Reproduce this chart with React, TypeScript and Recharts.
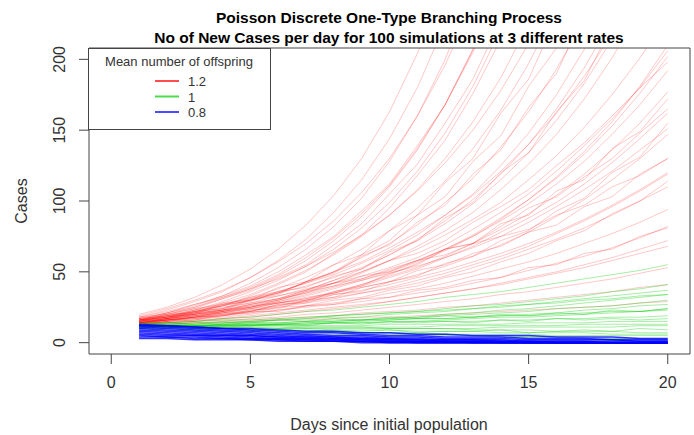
import { LineChart, Line, XAxis, YAxis, ReferenceArea } from 'recharts'

const days = [1, 2, 3, 4, 5, 6, 7, 8, 9, 10, 11, 12, 13, 14, 15, 16, 17, 18, 19, 20]
const xTicks = [0, 5, 10, 15, 20]
const yTicks = [0, 50, 100, 150, 200]

// new cases per day, mean offspring 1.2
const redRuns = [
  [17, 21, 27, 33, 40, 50, 62, 75, 93, 112, 139, 168, 205, 250, 300, 365, 440, 530, 640, 770],
  [15, 20, 24, 31, 37, 46, 55, 69, 84, 105, 126, 155, 186, 228, 275, 330, 400, 480, 580, 700],
  [14, 17, 22, 26, 33, 41, 50, 63, 76, 95, 118, 143, 176, 214, 262, 318, 388, 470, 570, 690],
  [16, 20, 21, 28, 30, 39, 43, 55, 62, 79, 90, 113, 130, 162, 186, 230, 268, 330, 385, 465],
  [13, 16, 20, 24, 30, 35, 43, 50, 60, 70, 83, 99, 116, 138, 163, 193, 228, 270, 320, 378],
  [18, 20, 24, 27, 32, 36, 42, 48, 56, 65, 76, 90, 105, 125, 148, 175, 207, 245, 290, 342],
  [15, 19, 20, 27, 29, 36, 39, 47, 52, 64, 72, 88, 99, 120, 134, 163, 185, 224, 252, 300],
  [14, 16, 18, 22, 25, 30, 35, 42, 50, 58, 66, 76, 87, 99, 115, 132, 152, 175, 201, 231],
  [16, 18, 21, 23, 27, 31, 37, 42, 47, 53, 60, 69, 80, 92, 105, 121, 139, 158, 180, 206],
  [12, 15, 16, 20, 22, 27, 29, 36, 40, 49, 55, 66, 70, 84, 90, 107, 115, 137, 149, 172],
  [15, 17, 19, 22, 24, 28, 32, 35, 40, 46, 52, 60, 68, 78, 88, 99, 112, 127, 144, 162],
  [17, 19, 22, 24, 28, 31, 35, 40, 44, 49, 54, 60, 67, 75, 85, 96, 108, 121, 136, 151],
  [13, 15, 18, 19, 23, 24, 30, 32, 39, 43, 51, 55, 63, 68, 78, 83, 96, 103, 119, 130],
  [14, 16, 18, 20, 23, 25, 28, 31, 35, 39, 44, 49, 55, 61, 68, 77, 86, 96, 107, 119],
  [16, 17, 19, 21, 24, 26, 29, 32, 35, 38, 42, 47, 53, 59, 66, 73, 81, 90, 100, 110],
  [14, 15, 17, 18, 20, 23, 26, 28, 31, 35, 38, 42, 47, 52, 57, 63, 70, 77, 85, 94],
  [15, 16, 18, 19, 22, 22, 26, 27, 31, 32, 37, 39, 44, 46, 53, 55, 63, 66, 75, 81],
  [13, 15, 16, 17, 19, 21, 23, 25, 27, 29, 32, 35, 38, 41, 45, 49, 53, 58, 63, 68],
  [12, 13, 14, 15, 17, 18, 20, 21, 23, 25, 27, 29, 31, 34, 36, 39, 42, 45, 49, 53],
  [14, 14, 15, 16, 16, 17, 18, 19, 21, 22, 23, 25, 26, 28, 30, 32, 34, 36, 39, 41],
  [13, 13, 14, 14, 15, 16, 16, 17, 18, 18, 19, 20, 21, 22, 23, 24, 25, 26, 28, 29],
  [19, 24, 30, 37, 46, 57, 70, 86, 106, 130, 160, 196, 240, 295, 360, 440, 540, 660, 800, 980],
  [16, 21, 25, 32, 39, 48, 60, 74, 91, 111, 137, 168, 207, 254, 310, 380, 465, 570, 695, 850],
  [15, 18, 23, 28, 34, 42, 51, 62, 75, 90, 108, 130, 156, 187, 225, 270, 325, 390, 468, 560],
  [14, 17, 21, 23, 30, 34, 43, 50, 62, 72, 90, 103, 128, 146, 181, 208, 256, 296, 360, 425],
  [17, 19, 23, 26, 30, 35, 40, 46, 53, 62, 72, 84, 98, 115, 134, 157, 183, 214, 250, 292],
  [13, 15, 18, 21, 25, 29, 34, 39, 45, 51, 58, 66, 75, 86, 98, 112, 128, 147, 168, 192],
  [16, 18, 20, 23, 26, 28, 31, 35, 39, 43, 48, 54, 61, 69, 78, 89, 101, 115, 130, 147],
  [15, 16, 18, 20, 21, 25, 26, 30, 32, 37, 40, 46, 50, 57, 63, 72, 79, 91, 100, 114],
  [14, 16, 17, 19, 21, 23, 25, 27, 29, 32, 35, 38, 42, 46, 51, 56, 61, 67, 74, 82],
  [18, 22, 27, 32, 38, 45, 54, 64, 76, 90, 107, 127, 150, 178, 211, 250, 296, 350, 414, 490],
  [12, 14, 16, 19, 22, 26, 30, 35, 41, 48, 56, 65, 75, 87, 101, 117, 135, 156, 181, 210],
  [15, 18, 22, 26, 30, 33, 38, 42, 45, 52, 58, 62, 70, 75, 80, 90, 97, 110, 118, 130],
  [14, 17, 20, 22, 27, 30, 36, 40, 47, 50, 57, 66, 70, 82, 95, 103, 117, 130, 148, 165],
  [16, 18, 21, 25, 28, 33, 37, 44, 50, 58, 63, 72, 85, 96, 108, 125, 141, 160, 180, 198],
  [20, 25, 32, 41, 52, 66, 83, 104, 130, 163, 204, 255, 320, 400, 500, 625, 780, 975, 1220, 1520],
  [18, 23, 29, 36, 46, 58, 73, 92, 115, 144, 180, 225, 280, 350, 438, 547, 684, 855, 1070, 1335],
  [17, 21, 26, 33, 42, 53, 66, 82, 102, 128, 160, 200, 250, 312, 390, 487, 610, 762, 952, 1190],
  [16, 20, 25, 31, 38, 47, 58, 72, 89, 110, 136, 168, 207, 255, 315, 390, 480, 590, 730, 900],
  [15, 19, 23, 29, 36, 44, 54, 66, 81, 99, 121, 148, 181, 221, 270, 330, 403, 492, 600, 735],
  [14, 17, 21, 26, 32, 38, 46, 55, 66, 79, 95, 114, 137, 164, 197, 236, 283, 340, 408, 490],
  [16, 18, 22, 24, 31, 35, 43, 49, 61, 69, 85, 97, 119, 136, 166, 190, 232, 265, 322, 370],
  [13, 16, 18, 22, 26, 30, 36, 42, 49, 58, 68, 79, 92, 108, 126, 147, 172, 201, 235, 275],
  [15, 17, 20, 22, 25, 29, 33, 38, 44, 50, 58, 66, 76, 88, 101, 116, 133, 153, 176, 202],
  [14, 16, 17, 21, 22, 27, 28, 34, 36, 43, 47, 56, 61, 72, 79, 93, 102, 120, 131, 155],
  [17, 18, 20, 23, 25, 28, 30, 34, 37, 41, 46, 51, 57, 63, 70, 78, 87, 97, 108, 120],
  [13, 14, 15, 17, 18, 20, 22, 24, 26, 29, 32, 35, 38, 42, 46, 50, 55, 60, 66, 72],
  [16, 19, 22, 27, 31, 36, 42, 50, 57, 67, 78, 90, 104, 121, 140, 162, 188, 218, 252, 292],
  [14, 16, 19, 23, 27, 31, 37, 44, 52, 62, 73, 86, 101, 119, 140, 165, 194, 228, 268, 315],
  [15, 17, 19, 21, 24, 28, 31, 36, 41, 47, 53, 61, 70, 80, 91, 104, 119, 136, 155, 177],
]

// mean offspring 1
const greenRuns = [
  [13, 14, 15, 17, 18, 20, 22, 23, 25, 27, 29, 32, 34, 36, 39, 42, 45, 48, 51, 55],
  [12, 13, 14, 14, 15, 16, 17, 19, 20, 21, 22, 24, 26, 27, 29, 31, 33, 36, 38, 41],
  [11, 12, 12, 13, 14, 14, 15, 16, 16, 17, 18, 19, 20, 21, 22, 24, 25, 26, 28, 30],
  [13, 14, 13, 15, 14, 16, 15, 17, 16, 18, 17, 19, 18, 20, 19, 21, 20, 23, 22, 24],
  [12, 12, 12, 13, 13, 13, 13, 14, 14, 14, 15, 15, 15, 16, 16, 17, 17, 18, 18, 19],
  [11, 11, 11, 11, 12, 12, 12, 12, 12, 13, 13, 13, 13, 13, 14, 14, 14, 15, 15, 15],
  [12, 12, 11, 11, 11, 11, 10, 10, 10, 10, 10, 10, 10, 11, 11, 11, 11, 11, 12, 12],
  [10, 11, 9, 10, 9, 10, 8, 9, 8, 9, 7, 8, 8, 9, 7, 8, 9, 8, 10, 9],
  [11, 11, 10, 10, 9, 9, 8, 8, 7, 7, 7, 6, 6, 6, 6, 5, 5, 5, 5, 5],
  [12, 11, 11, 10, 9, 9, 8, 7, 7, 6, 6, 5, 5, 4, 4, 4, 3, 3, 3, 3],
  [10, 10, 9, 8, 8, 7, 6, 6, 5, 4, 4, 3, 3, 2, 2, 2, 1, 1, 1, 1],
  [13, 12, 11, 11, 10, 9, 9, 8, 7, 7, 6, 6, 5, 5, 4, 4, 4, 3, 3, 2],
  [14, 14, 15, 16, 16, 17, 18, 19, 20, 21, 22, 23, 24, 26, 27, 28, 30, 31, 33, 34],
  [12, 12, 13, 13, 14, 14, 15, 15, 16, 16, 17, 17, 18, 19, 19, 20, 21, 22, 22, 23],
  [11, 12, 11, 13, 12, 13, 12, 14, 13, 15, 14, 15, 14, 16, 15, 17, 16, 17, 16, 17],
  [10, 10, 10, 10, 10, 10, 11, 11, 11, 11, 11, 12, 12, 12, 12, 12, 13, 13, 13, 13],
  [13, 13, 12, 12, 12, 12, 11, 11, 11, 10, 10, 10, 9, 9, 9, 8, 8, 8, 7, 7],
  [12, 12, 12, 12, 13, 13, 14, 14, 15, 16, 17, 17, 18, 19, 20, 21, 23, 24, 26, 27],
  [12, 13, 13, 14, 15, 16, 17, 18, 18, 20, 21, 22, 24, 25, 27, 29, 31, 33, 35, 37],
  [11, 11, 12, 12, 12, 13, 13, 14, 14, 15, 15, 16, 17, 18, 18, 19, 20, 21, 22, 24],
  [13, 12, 12, 11, 11, 10, 10, 9, 9, 9, 8, 8, 8, 7, 7, 7, 7, 6, 6, 6],
  [10, 11, 11, 12, 13, 13, 14, 15, 16, 17, 18, 20, 21, 23, 24, 26, 28, 30, 32, 34],
]

// mean offspring 0.8
const blueRuns = [
  [13, 12, 11, 10, 9, 8, 7, 7, 6, 5, 5, 4, 4, 4, 3, 3, 3, 2, 2, 2],
  [12, 11, 10, 9, 8, 7, 6, 5, 5, 4, 4, 3, 3, 3, 2, 2, 2, 2, 1, 1],
  [11, 10, 9, 8, 7, 6, 5, 4, 4, 3, 3, 2, 2, 2, 1, 1, 1, 1, 1, 1],
  [10, 9, 8, 7, 6, 5, 4, 4, 3, 3, 2, 2, 2, 1, 1, 1, 1, 0, 0, 0],
  [9, 8, 7, 6, 5, 4, 4, 3, 3, 2, 2, 1, 1, 1, 1, 0, 0, 0, 0, 0],
  [8, 7, 6, 5, 5, 4, 3, 3, 2, 2, 1, 1, 1, 1, 0, 0, 0, 0, 0, 0],
  [7, 6, 5, 5, 4, 3, 3, 2, 2, 1, 1, 1, 1, 0, 0, 0, 0, 0, 0, 0],
  [6, 5, 5, 4, 3, 3, 2, 2, 1, 1, 1, 1, 0, 0, 0, 0, 0, 0, 0, 0],
  [5, 4, 4, 3, 3, 2, 2, 1, 1, 1, 0, 0, 0, 0, 0, 0, 0, 0, 0, 0],
  [4, 4, 3, 3, 2, 2, 1, 1, 1, 0, 0, 0, 0, 0, 0, 0, 0, 0, 0, 0],
  [3, 3, 2, 2, 2, 1, 1, 1, 0, 0, 0, 0, 0, 0, 0, 0, 0, 0, 0, 0],
  [12, 12, 11, 10, 10, 9, 8, 8, 7, 7, 6, 6, 5, 5, 5, 4, 4, 4, 3, 3],
]

const legendItems = [
  { label: '1.2', color: '#ff0000' },
  { label: '1', color: '#00cc00' },
  { label: '0.8', color: '#0000ff' },
]

const rows = days.map((day, i) => {
  const row: Record<string, number> = { day }
  redRuns.forEach((run, k) => { row[`r${k}`] = run[i] })
  greenRuns.forEach((run, k) => { row[`g${k}`] = run[i] })
  blueRuns.forEach((run, k) => { row[`b${k}`] = run[i] })
  return row
})

const font = '"Liberation Sans", Arial, sans-serif'

function XTick({ x, y, payload }: any) {
  return (
    <text x={x} y={y + 22} textAnchor="middle" fontSize={16} fontFamily={font} fill="#333">
      {payload.value}
    </text>
  )
}

function YTick({ x, y, payload }: any) {
  const bx = x - 12
  return (
    <text x={bx} y={y} textAnchor="middle" fontSize={16} fontFamily={font} fill="#333"
      transform={`rotate(-90, ${bx}, ${y})`}>
      {payload.value}
    </text>
  )
}

export default function App() {
  return (
    <div style={{ position: 'absolute', left: 0, top: 0, width: 694, height: 435, background: '#fff' }}>
      <LineChart width={694} height={435} data={rows} margin={{ top: 48, right: 4, bottom: 0, left: 0 }}>
        <XAxis dataKey="day" type="number" domain={[-0.8, 20.8]} ticks={xTicks} interval={0}
          allowDataOverflow axisLine={false} tickSize={10} height={81}
          tickLine={{ stroke: '#444' }} tick={<XTick />} />
        <YAxis type="number" domain={[-8, 208]} ticks={yTicks} interval={0}
          allowDataOverflow axisLine={false} tickSize={10} width={89}
          tickLine={{ stroke: '#444' }} tick={<YTick />} />
        {redRuns.map((_, k) => (
          <Line key={`r${k}`} dataKey={`r${k}`} stroke="#ff0000" strokeOpacity={0.22} strokeWidth={1}
            dot={false} activeDot={false} isAnimationActive={false} />
        ))}
        {greenRuns.map((_, k) => (
          <Line key={`g${k}`} dataKey={`g${k}`} stroke="#00cc00" strokeOpacity={0.35} strokeWidth={1}
            dot={false} activeDot={false} isAnimationActive={false} />
        ))}
        {blueRuns.map((_, k) => (
          <Line key={`b${k}`} dataKey={`b${k}`} stroke="#0000ff" strokeOpacity={0.8} strokeWidth={1.5}
            dot={false} activeDot={false} isAnimationActive={false} />
        ))}
        <ReferenceArea x1={-0.8} x2={20.8} y1={-8} y2={208} fill="none" stroke="#444" strokeWidth={1} ifOverflow="visible" />
      </LineChart>

      <svg width={694} height={435} style={{ position: 'absolute', left: 0, top: 0, pointerEvents: 'none' }}
        fontFamily={font}>
        <text x={389} y={23} textAnchor="middle" fontSize={15.5} fontWeight="bold" fill="#000">
          Poisson Discrete One-Type Branching Process
        </text>
        <text x={389} y={43} textAnchor="middle" fontSize={15.5} fontWeight="bold" fill="#000">
          No of New Cases per day for 100 simulations at 3 different rates
        </text>
        <text x={389} y={430} textAnchor="middle" fontSize={16} fill="#333">Days since initial population</text>
        <text x={27} y={201} textAnchor="middle" fontSize={16} fill="#333" transform="rotate(-90, 27, 201)">Cases</text>

        <rect x={88.5} y={48.5} width={182} height={81} fill="#fff" stroke="#444" />
        <text x={179} y={66} textAnchor="middle" fontSize={13} fill="#333">Mean number of offspring</text>
        {legendItems.map((item, i) => (
          <g key={item.label}>
            <line x1={155} x2={179} y1={81 + i * 15.5} y2={81 + i * 15.5} stroke={item.color} strokeOpacity={0.7} strokeWidth={2} />
            <text x={188} y={86 + i * 15.5} fontSize={13} fill="#333">{item.label}</text>
          </g>
        ))}
      </svg>
    </div>
  )
}
